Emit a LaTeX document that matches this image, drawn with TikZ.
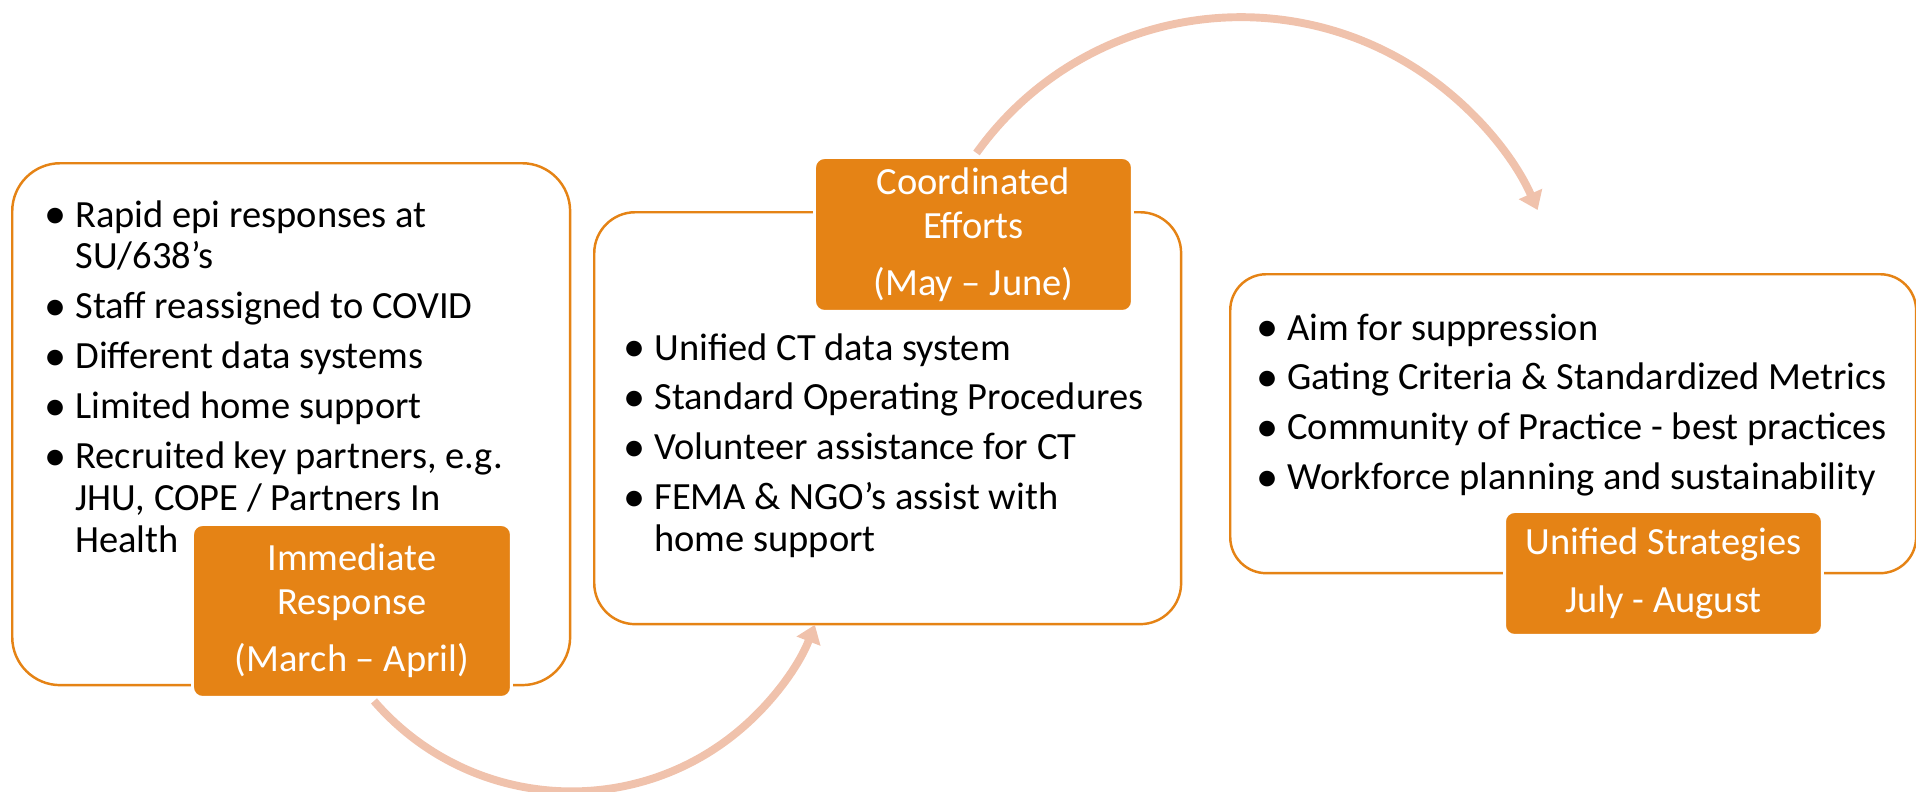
\documentclass[tikz,border=0pt]{standalone}
\usepackage{fontspec}
\setmainfont{Carlito}
\usetikzlibrary{arrows.meta}

\definecolor{ora}{RGB}{229,131,21}
\definecolor{peach}{RGB}{240,194,172}

% one bullet point, hanging indent
\newcommand{\bul}[1]{\par\hangindent=0.52cm\hangafter=1\noindent
  \makebox[0.52cm][l]{\hspace{-0.1cm}\raisebox{-0.03em}{\scalebox{1.15}{\textbullet}}}#1}
\newcommand{\blist}[1]{\begin{minipage}[t]{13cm}\raggedright\parskip=0.16cm #1\end{minipage}}

\begin{document}
\begin{tikzpicture}[x=0.02cm,y=-0.02cm]
\tikzset{
box/.style={draw=ora,line width=1.4pt,fill=white,anchor=north west,inner sep=0pt},
lab/.style={draw=white,line width=1.7pt,fill=ora,text=white,rounded corners=0.2cm,
  anchor=north west,inner sep=0pt,align=center,font={\fontsize{21.9}{25}\selectfont}},
list/.style={anchor=base west,inner sep=0pt,font={\fontsize{21.9}{23.9}\selectfont}},
flow/.style={draw=peach,line width=4.5pt,-{Triangle[width=14pt,length=10pt]}}
}
\useasboundingbox (0,0) rectangle (1916,791);

% the three phases
\node[box,rounded corners=0.96cm,minimum width=11.16cm,minimum height=10.44cm] (b1) at (11,162) {};
\node[box,rounded corners=0.82cm,minimum width=11.74cm,minimum height=8.24cm] (b2) at (593,211) {};
\node[box,rounded corners=0.72cm,minimum width=13.72cm,minimum height=5.98cm] (b3) at (1229,273) {};

\node[list] (t1) at (49,227) {\blist{%
\bul{Rapid epi responses at\newline SU/638’s}
\bul{Staff reassigned to COVID}
\bul{Different data systems}
\bul{Limited home support}
\bul{Recruited key partners, e.g.\newline JHU, COPE / Partners In\newline Health}}};

\node[list] (t2) at (628,360) {\blist{%
\bul{Unified CT data system}
\bul{Standard Operating Procedures}
\bul{Volunteer assistance for CT}
\bul{FEMA \& NGO’s assist with\newline home support}}};

\node[list] (t3) at (1261,340) {\blist{%
\bul{Aim for suppression}
\bul{Gating Criteria \& Standardized Metrics}
\bul{Community of Practice - best practices}
\bul{Workforce planning and sustainability}}};

% labels
\node[lab,minimum width=6.38cm,minimum height=3.46cm] (l1) at (191,523)
  {Immediate\\Response\\[0.26cm](March – April)};
\node[lab,minimum width=6.36cm,minimum height=3.08cm] (l2) at (813,156)
  {Coordinated\\Efforts\\[0.26cm](May – June)};
\node[lab,minimum width=6.36cm,minimum height=2.48cm] (l3) at (1503,510)
  {Unified Strategies\\[0.28cm]July - August};

% arrows
\draw[flow] (l1.south) ++(22,2) arc[start angle=139.2,end angle=21.2,radius=261];
\draw[flow] (l2.north) ++(3,-3) arc[start angle=-144.4,end angle=-24,radius=325];
\end{tikzpicture}
\end{document}
